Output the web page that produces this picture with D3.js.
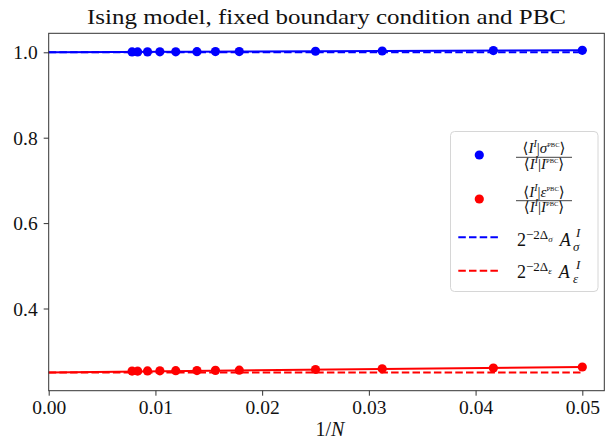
<!DOCTYPE html>
<html>
<head>
<meta charset="utf-8">
<script src="https://cdn.jsdelivr.net/npm/d3@7"></script>
<style>
body { margin: 0; background: #fff; }
text { font-family: "Liberation Serif", "DejaVu Serif", serif; fill: #111; }
</style>
</head>
<body>
<div class="view"></div>
<script>
var width = 611;
var height = 443;

var margin = { top: 33.3, right: 6.7, bottom: 52.3, left: 48.7 };

// system sizes N, plotted against 1/N
var sizes = [20, 24, 32, 40, 56, 64, 72, 84, 96, 108, 120, 128];
var sigmaRatio = [1.0047, 1.0040, 1.0031, 1.0025, 1.0018, 1.0016, 1.0014, 1.0012, 1.0011, 1.0010, 1.0009, 1.0008];
var epsRatio = [0.2630, 0.2605, 0.2588, 0.2572, 0.2556, 0.2551, 0.2547, 0.2543, 0.2540, 0.2537, 0.2535, 0.2534];

// linear fits (solid) and predictions (dashed)
var fitX = [0, 0.05];
var sigmaFit = [1.0001, 1.0046];
var epsFit = [0.2503, 0.2628];
var sigmaPred = [1.0, 1.0];
var epsPred = [0.25, 0.25];

var xTicks = [0, 0.01, 0.02, 0.03, 0.04, 0.05];
var yTicks = [0.4, 0.6, 0.8, 1.0];

var svg = d3.select(".view")
    .append("svg")
    .attr("width", width)
    .attr("height", height);

svg.append("rect").attr("width", width).attr("height", height).attr("fill", "#fff");

var x = d3.scaleLinear()
    .domain([0, 0.05206])
    .range([margin.left, width - margin.right]);

var y = d3.scaleLinear()
    .domain([0.2075, 1.0445])
    .range([height - margin.bottom, margin.top]);

var g = svg.append("g");

function lineOf(xs, ys) {
    return d3.line()
        .x(function (d, i) { return x(xs[i]); })
        .y(function (d, i) { return y(ys[i]); })(ys);
}

var invN = sizes.map(function (n) { return 1 / n; });

// dashed predictions
[[sigmaPred, "#0000ff"], [epsPred, "#ff0000"]].forEach(function (s) {
    g.append("path")
        .attr("d", lineOf(fitX, s[0]))
        .attr("fill", "none")
        .attr("stroke", s[1])
        .attr("stroke-width", 2)
        .attr("stroke-dasharray", "7.5,3.2");
});

// solid fits
[[sigmaFit, "#0000ff"], [epsFit, "#ff0000"]].forEach(function (s) {
    g.append("path")
        .attr("d", lineOf(fitX, s[0]))
        .attr("fill", "none")
        .attr("stroke", s[1])
        .attr("stroke-width", 2);
});

// data points
[[sigmaRatio, "#0000ff"], [epsRatio, "#ff0000"]].forEach(function (s) {
    g.append("g").selectAll("circle")
        .data(s[0])
        .enter().append("circle")
        .attr("cx", function (d, i) { return x(invN[i]); })
        .attr("cy", function (d) { return y(d); })
        .attr("r", 4.6)
        .attr("fill", s[1]);
});

// frame
svg.append("rect")
    .attr("x", margin.left)
    .attr("y", margin.top)
    .attr("width", width - margin.left - margin.right)
    .attr("height", height - margin.top - margin.bottom)
    .attr("fill", "none")
    .attr("stroke", "#333")
    .attr("stroke-width", 1);

// axes
var xAxis = svg.append("g")
    .attr("transform", "translate(0," + (height - margin.bottom) + ")")
    .call(d3.axisBottom(x).tickValues(xTicks).tickFormat(d3.format(".2f")).tickSize(5).tickPadding(6));
var yAxis = svg.append("g")
    .attr("transform", "translate(" + margin.left + ",0)")
    .call(d3.axisLeft(y).tickValues(yTicks).tickFormat(d3.format(".1f")).tickSize(5).tickPadding(6));

[xAxis, yAxis].forEach(function (a) {
    a.select(".domain").remove();
    a.selectAll("line").attr("stroke", "#333");
    a.selectAll("text")
        .attr("font-size", 19.5)
        .attr("fill", "#111")
        .style("font-family", "'Liberation Serif', serif");
});
xAxis.selectAll("text").attr("dy", "0.64em");
yAxis.selectAll("text").attr("dy", "0.34em");

// title
svg.append("text")
    .attr("x", (margin.left + width - margin.right) / 2)
    .attr("y", 23.5)
    .attr("text-anchor", "middle")
    .attr("font-size", 22)
    .attr("textLength", 479)
    .attr("lengthAdjust", "spacingAndGlyphs")
    .text("Ising model, fixed boundary condition and PBC");

// x label
var xl = svg.append("text")
    .attr("x", 330)
    .attr("y", 436)
    .attr("text-anchor", "middle")
    .attr("font-size", 20);
xl.append("tspan").text("1/");
xl.append("tspan").attr("font-style", "italic").text("N");

// math helper: parts = [text, size, shift, italic, dx]
function mathText(parent, px, py, parts, anchor) {
    var t = parent.append("text")
        .attr("x", px)
        .attr("y", py)
        .attr("text-anchor", anchor || "start");
    var cur = 0;
    parts.forEach(function (p) {
        var ts = t.append("tspan")
            .attr("dy", p[2] - cur)
            .attr("font-size", p[1])
            .attr("font-style", p[3] ? "italic" : "normal")
            .text(p[0]);
        if (p[4]) ts.attr("dx", p[4]);
        cur = p[2];
    });
    return t;
}

// legend
var lg = svg.append("g");
lg.append("rect")
    .attr("x", 450.5)
    .attr("y", 131.5)
    .attr("width", 147.5)
    .attr("height", 160)
    .attr("rx", 4)
    .attr("fill", "#fff")
    .attr("fill-opacity", 0.8)
    .attr("stroke", "#d6d6d6");

lg.append("circle").attr("cx", 479.3).attr("cy", 155).attr("r", 4.6).attr("fill", "#0000ff");
lg.append("circle").attr("cx", 479.3).attr("cy", 199).attr("r", 4.6).attr("fill", "#ff0000");
lg.append("line").attr("x1", 458.3).attr("x2", 500).attr("y1", 237.3).attr("y2", 237.3)
    .attr("stroke", "#0000ff").attr("stroke-width", 2).attr("stroke-dasharray", "7.5,3.2");
lg.append("line").attr("x1", 458.3).attr("x2", 500).attr("y1", 270.7).attr("y2", 270.7)
    .attr("stroke", "#ff0000").attr("stroke-width", 2).attr("stroke-dasharray", "7.5,3.2");

function fraction(cx, barY, op) {
    mathText(lg, cx, barY - 4, [
        ["\u27E8", 15, 0], ["I", 15, 0, true], ["I", 10, -6, true],
        ["|", 15, 0], [op, 15, 0, true], ["PBC", 6.5, -6], ["\u27E9", 15, 0]
    ], "middle");
    lg.append("line")
        .attr("x1", cx - 28).attr("x2", cx + 28)
        .attr("y1", barY).attr("y2", barY)
        .attr("stroke", "#111").attr("stroke-width", 0.8);
    mathText(lg, cx, barY + 11.5, [
        ["\u27E8", 15, 0], ["I", 15, 0, true], ["I", 10, -6, true],
        ["|", 15, 0], ["I", 15, 0, true], ["PBC", 6.5, -6], ["\u27E9", 15, 0]
    ], "middle");
}
fraction(544, 157.3, "\u03C3");
fraction(544, 200.7, "\u03B5");

// 2^{-2 Delta} A^I_sym : base, then sup and sub as separate texts
function power(py, sym) {
    mathText(lg, 517, py, [
        ["2", 18, 0], ["\u22122\u0394", 13, -7.5], [sym, 9, -4.5, true],
        ["A", 18, 0, true, 7]
    ]);
    lg.append("text").attr("x", 576).attr("y", py - 9)
        .attr("font-size", 13).attr("font-style", "italic").text("I");
    lg.append("text").attr("x", 573).attr("y", py + 5)
        .attr("font-size", 13).attr("font-style", "italic").text(sym);
}
power(246, "\u03C3");
power(278, "\u03B5");
</script>
</body>
</html>
